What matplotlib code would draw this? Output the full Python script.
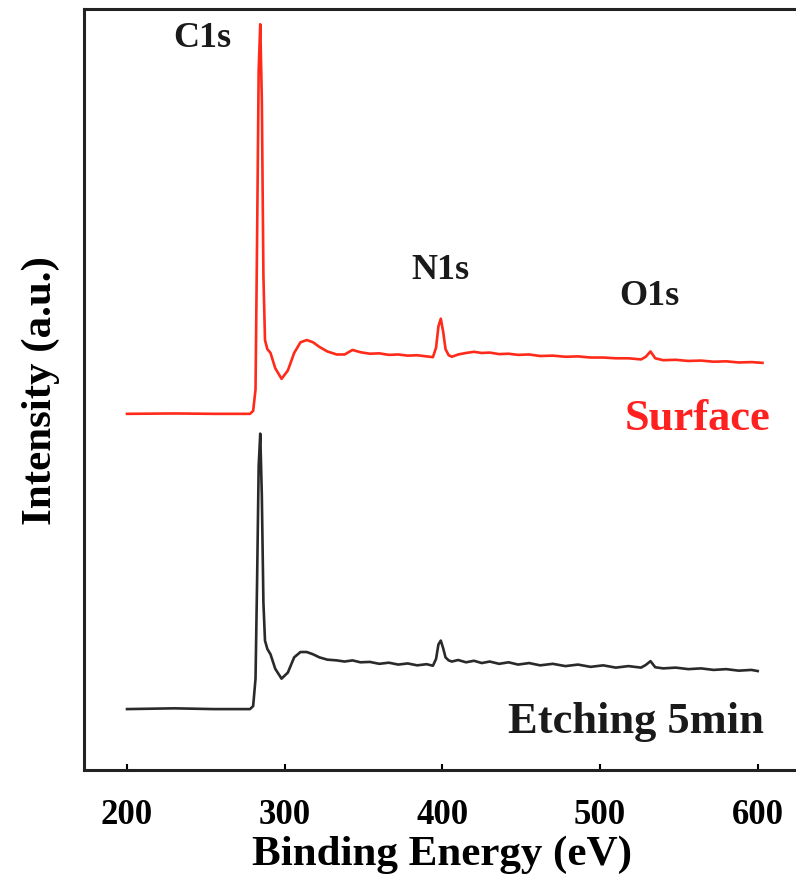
import matplotlib
matplotlib.use("Agg")
import matplotlib.pyplot as plt

plt.rcParams['font.family'] = ['Liberation Serif', 'DejaVu Serif']
plt.rcParams['font.weight'] = 'bold'

# binding energy (eV) and intensity (a.u.)
surface_x = [200, 230, 255, 278, 280, 281.5, 282.5, 283.5, 284.5, 285.5, 286.5, 287.5,
             289, 291, 294, 298, 302, 306, 310, 314, 318, 322, 327, 333, 338, 343,
             348, 354, 360, 366, 372, 378, 384, 390, 394, 396, 397.5, 399, 400.5, 402, 404, 406,
             410, 415, 420, 425, 430, 436, 442, 448, 455, 462, 470, 478, 486, 494,
             502, 510, 518, 526, 529, 532, 535, 540, 548, 556, 564, 572, 580, 588,
             596, 603]
surface_y = [46.8, 46.85, 46.8, 46.8, 47.2, 50.0, 70.0, 92.0, 98.0, 88.0, 65.0, 56.5,
             55.3, 54.8, 52.8, 51.4, 52.5, 54.8, 56.2, 56.5, 56.2, 55.6, 55.0, 54.6, 54.6, 55.2,
             54.9, 54.7, 54.75, 54.55, 54.6, 54.45, 54.5, 54.35, 54.25, 55.5, 58.3, 59.3, 57.6, 55.3, 54.5, 54.3,
             54.6, 54.8, 54.95, 54.8, 54.85, 54.65, 54.7, 54.55, 54.6, 54.4, 54.45, 54.3, 54.35, 54.2,
             54.2, 54.1, 54.1, 53.95, 54.3, 55.0, 54.1, 53.85, 53.9, 53.75, 53.8, 53.65, 53.7, 53.55,
             53.6, 53.5]

etching_x = [200, 230, 255, 278, 280, 281.5, 282.5, 283.5, 284.5, 285.5, 286.5, 287.5,
             289, 291, 294, 298, 302, 306, 310, 314, 318, 322, 327, 333, 338, 343,
             348, 354, 360, 366, 372, 378, 384, 390, 394, 396, 397.5, 399, 400.5, 402, 404, 406,
             410, 415, 420, 425, 430, 436, 442, 448, 455, 462, 470, 478, 486, 494,
             502, 510, 518, 526, 529, 532, 535, 540, 548, 556, 564, 572, 580, 588,
             596, 600]
etching_y = [8.0, 8.1, 8.0, 8.0, 8.4, 12.0, 25.0, 40.0, 44.2, 36.0, 22.0, 17.0,
             15.9, 15.2, 13.3, 12.0, 12.8, 14.8, 15.5, 15.5, 15.2, 14.8, 14.5, 14.4, 14.25, 14.4,
             14.15, 14.2, 13.95, 14.1, 13.85, 14.0, 13.75, 13.9, 13.7, 14.6, 16.5, 17.0, 16.0, 14.8, 14.4, 14.25,
             14.45, 14.15, 14.35, 14.05, 14.25, 13.95, 14.15, 13.85, 14.05, 13.75, 13.95, 13.65, 13.85, 13.55,
             13.75, 13.45, 13.65, 13.45, 13.8, 14.3, 13.5, 13.35, 13.45, 13.25, 13.35, 13.15, 13.25, 13.05,
             13.15, 13.0]

x_ticks = [200, 300, 400, 500, 600]

fig = plt.figure(figsize=(7.96, 8.78), dpi=100)
ax = fig.add_axes([0.1055, 0.1219, 0.8995, 0.8667])

ax.plot(surface_x, surface_y, color='#ff2a1a', lw=1.9)
ax.plot(etching_x, etching_y, color='#2a2a2a', lw=1.9)

ax.set_xlim(172.7, 626.8)
ax.set_ylim(0, 100)
ax.set_xticks(x_ticks)
ax.set_yticks([])
ax.tick_params(axis='x', direction='in', length=4, width=1.5, pad=20, labelsize=25)
for lab in ax.get_xticklabels():
    lab.set_fontweight('bold')
for sp in ax.spines.values():
    sp.set_linewidth(2.2)
    sp.set_color('#222222')

ax.set_xlabel('Binding Energy (eV)', fontsize=31, fontweight='bold', labelpad=3)
ax.set_ylabel('Intensity (a.u.)', fontsize=31, fontweight='bold', labelpad=17)

ax.text(248, 96.2, 'C1s', fontsize=26, fontweight='bold', color='#1a1a1a', ha='center', va='center')
ax.text(398.5, 65.8, 'N1s', fontsize=26, fontweight='bold', color='#1a1a1a', ha='center', va='center')
ax.text(531.6, 62.3, 'O1s', fontsize=26, fontweight='bold', color='#1a1a1a', ha='center', va='center')
ax.text(562, 44.8, 'Surface', fontsize=32, fontweight='bold', color='#ff2020', ha='center', va='baseline')
ax.text(523, 5.0, 'Etching 5min', fontsize=32, fontweight='bold', color='#1a1a1a', ha='center', va='baseline')

plt.savefig('out.png', dpi=100)
